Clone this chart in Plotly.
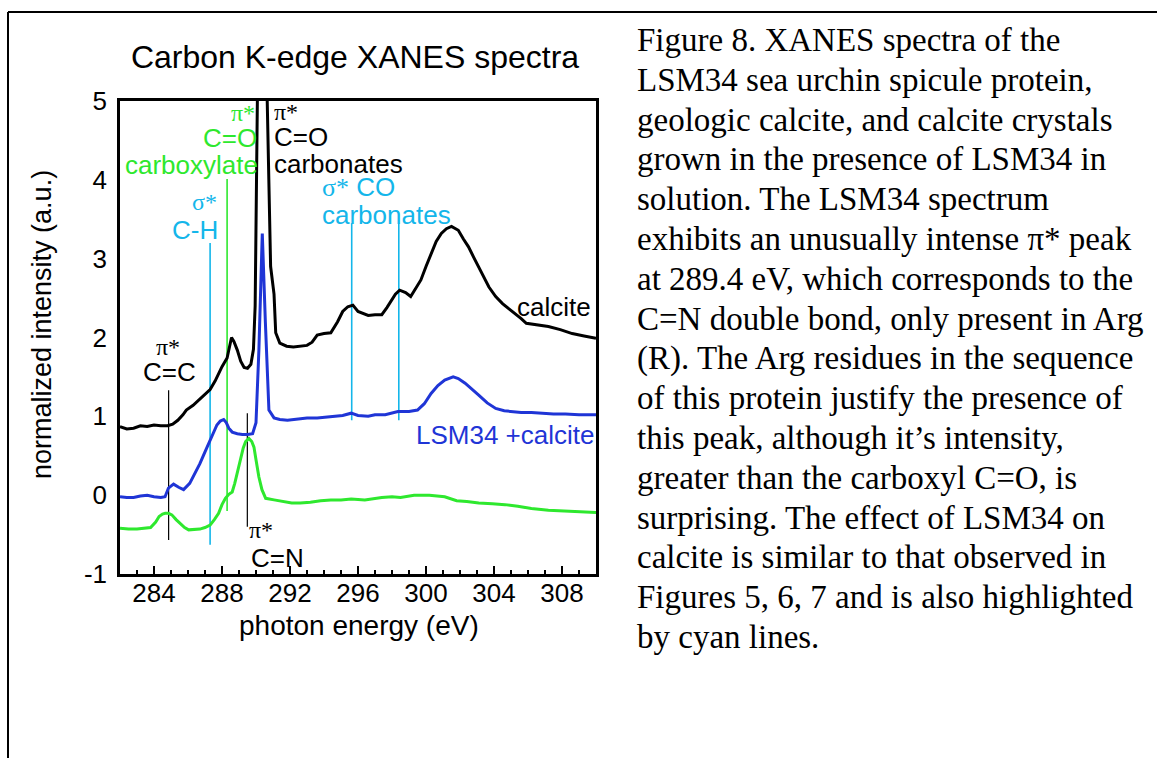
import plotly.graph_objects as go

# ---------------- data ----------------
calcite_E = [282.0, 282.4, 282.8, 283.2, 283.6, 284.0, 284.4, 284.8, 285.1, 285.4, 285.7, 285.9,
             286.3, 286.7, 287.0, 287.3, 287.6, 287.8, 288.0, 288.3, 288.45, 288.56, 288.7, 288.9,
             289.1, 289.3, 289.5, 289.7, 289.85, 289.95, 290.08, 290.35, 290.66, 290.86, 291.06,
             291.16, 291.4, 291.8, 292.2, 292.6, 293.0, 293.3, 293.6, 294.0, 294.4, 294.8, 295.1,
             295.4, 295.7, 296.0, 296.3, 296.6, 297.0, 297.4, 297.7, 297.9, 298.2, 298.45, 298.8,
             299.1, 299.4, 299.7, 300.0, 300.3, 300.6, 300.9, 301.2, 301.5, 301.9, 302.2, 302.5,
             302.8, 303.1, 303.4, 303.7, 304.1, 304.5, 304.9, 305.2, 305.6, 305.9, 306.5, 307.2,
             307.9, 308.6, 309.3, 310.0]
calcite_I = [0.87, 0.84, 0.85, 0.88, 0.87, 0.89, 0.88, 0.88, 0.90, 0.95, 1.02, 1.08,
             1.14, 1.22, 1.28, 1.34, 1.45, 1.55, 1.63, 1.74, 1.92, 2.00, 1.95, 1.84,
             1.70, 1.62, 1.61, 1.66, 1.85, 2.40, 5.00, 9.50, 5.00, 2.90, 2.55,
             2.06, 1.93, 1.89, 1.88, 1.89, 1.90, 1.94, 2.03, 2.05, 2.06, 2.20, 2.33,
             2.39, 2.41, 2.33, 2.30, 2.28, 2.29, 2.29, 2.38, 2.45, 2.55, 2.60, 2.57,
             2.52, 2.62, 2.73, 2.90, 3.07, 3.22, 3.32, 3.38, 3.41, 3.36, 3.25, 3.15,
             3.02, 2.90, 2.77, 2.64, 2.52, 2.43, 2.36, 2.31, 2.24, 2.18, 2.16, 2.14,
             2.10, 2.05, 2.02, 1.99]

lsm_calcite_E = [282.0, 282.4, 282.8, 283.2, 283.6, 284.0, 284.4, 284.65, 284.85, 285.15, 285.45,
                 285.74, 286.1, 286.4, 286.7, 287.0, 287.3, 287.5, 287.7, 287.9, 288.1, 288.25,
                 288.4, 288.6, 288.9, 289.2, 289.5, 289.8, 290.0, 290.17, 290.37, 290.55, 290.76,
                 291.06, 291.4, 291.85, 292.4, 293.0, 293.6, 294.0, 294.6, 295.1, 295.6, 296.0,
                 296.6, 297.0, 297.6, 298.35, 299.0, 299.5, 299.9, 300.3, 300.7, 301.1, 301.6,
                 301.9, 302.3, 302.7, 303.1, 303.6, 304.1, 304.6, 305.05, 305.6, 306.2, 306.9,
                 307.5, 308.2, 309.0, 310.0]
lsm_calcite_I = [-0.02, -0.03, -0.03, -0.01, 0.00, -0.02, -0.03, -0.02, 0.09, 0.14, 0.10,
                 0.07, 0.15, 0.27, 0.40, 0.55, 0.70, 0.80, 0.89, 0.94, 0.96, 0.92,
                 0.85, 0.80, 0.78, 0.77, 0.77, 0.78, 0.92, 1.84, 3.32, 2.20, 1.08,
                 0.98, 0.96, 0.95, 0.96, 0.98, 0.98, 0.99, 1.00, 1.01, 1.04, 1.01,
                 1.00, 1.02, 1.02, 1.06, 1.06, 1.08, 1.16, 1.29, 1.39, 1.46, 1.50,
                 1.48, 1.42, 1.35, 1.27, 1.17, 1.10, 1.07, 1.06, 1.05, 1.05, 1.04,
                 1.03, 1.03, 1.02, 1.02]

protein_E = [282.0, 282.5, 283.0, 283.5, 283.8, 284.1, 284.3, 284.5, 284.66, 284.85, 285.05, 285.3,
             285.55, 285.8, 286.04, 286.4, 286.7, 287.0, 287.3, 287.55, 287.8, 288.0, 288.2, 288.4,
             288.6, 288.75, 288.9, 289.1, 289.25, 289.39, 289.58, 289.75, 289.88, 290.0, 290.17,
             290.35, 290.57, 291.06, 291.6, 292.1, 292.6, 293.2, 293.8, 294.4, 295.0, 295.6, 296.4,
             297.0, 297.4, 298.0, 298.5, 299.3, 300.2, 301.1, 301.8, 302.4, 303.1, 303.9, 304.65,
             305.4, 306.2, 307.2, 308.2, 309.1, 310.0]
protein_I = [-0.42, -0.43, -0.43, -0.42, -0.41, -0.34, -0.27, -0.24, -0.23, -0.23, -0.25, -0.31,
             -0.36, -0.41, -0.44, -0.43, -0.43, -0.41, -0.38, -0.31, -0.23, -0.12, -0.04, 0.01,
             0.04, 0.15, 0.28, 0.45, 0.60, 0.68, 0.72, 0.68, 0.61, 0.45, 0.23,
             0.07, -0.04, -0.06, -0.08, -0.10, -0.10, -0.09, -0.07, -0.06, -0.06, -0.05, -0.06,
             -0.04, -0.03, -0.02, -0.03, 0.00, 0.00, -0.02, -0.07, -0.08, -0.10, -0.11, -0.12,
             -0.14, -0.17, -0.19, -0.20, -0.21, -0.22]

# marker lines: energy, y bottom, y top, colour key
marker_E = [287.3, 288.3, 295.63, 298.4, 284.86, 289.49]
marker_lo = [-0.63, -0.20, 0.95, 0.95, -0.57, -0.40]
marker_hi = [3.20, 4.01, 3.45, 3.45, 1.33, 1.04]
marker_kind = ["cyan", "green", "cyan", "cyan", "black", "black"]

x_ticks = [284, 288, 292, 296, 300, 304, 308]
y_ticks = [-1, 0, 1, 2, 3, 4, 5]

caption_lines = [
    "Figure 8. XANES spectra of the",
    "LSM34 sea urchin spicule protein,",
    "geologic calcite, and calcite crystals",
    "grown in the presence of LSM34 in",
    "solution. The LSM34 spectrum",
    "exhibits an unusually intense \u03c0* peak",
    "at 289.4 eV, which corresponds to the",
    "C=N double bond, only present in Arg",
    "(R). The Arg residues in the sequence",
    "of this protein justify the presence of",
    "this peak, although it\u2019s intensity,",
    "greater than the carboxyl C=O, is",
    "surprising. The effect of LSM34 on",
    "calcite is similar to that observed in",
    "Figures 5, 6, 7 and is also highlighted",
    "by cyan lines.",
]

# ---------------- style ----------------
BLACK = "#000000"
BLUE = "#1f35d6"
GREEN = "#2ee82e"
CYAN = "#14b6ea"
SANS = "Liberation Sans, Arial, sans-serif"
SERIF = "Liberation Serif, Times New Roman, serif"
colors = {"cyan": CYAN, "green": GREEN, "black": BLACK}
widths = {"cyan": 1.6, "green": 1.6, "black": 1.2}

# plot-area pixel geometry (for placing things outside the axes)
L, T, R, B = 120, 101, 596, 574
def px_x(px):
    return (px - L) / (R - L)
def px_y(py):
    return (B - py) / (B - T)

fig = go.Figure()

for e, lo, hi, k in zip(marker_E, marker_lo, marker_hi, marker_kind):
    fig.add_trace(go.Scatter(x=[e, e], y=[lo, hi], mode="lines",
                             line=dict(color=colors[k], width=widths[k]),
                             showlegend=False, hoverinfo="skip"))

fig.add_trace(go.Scatter(x=protein_E, y=protein_I, mode="lines",
                         line=dict(color=GREEN, width=3), showlegend=False))
fig.add_trace(go.Scatter(x=lsm_calcite_E, y=lsm_calcite_I, mode="lines",
                         line=dict(color=BLUE, width=3), showlegend=False))
fig.add_trace(go.Scatter(x=calcite_E, y=calcite_I, mode="lines",
                         line=dict(color=BLACK, width=3), showlegend=False))

def pi(sym="\u03c0*"):
    return f'<span style="font-family:{SERIF}">{sym}</span>'

ann = []
def note(text, x, y, color, anchor, size=26):
    ann.append(dict(text=text, x=x, y=y, xref="x", yref="y", showarrow=False,
                    xanchor=anchor, yanchor="middle", borderpad=0,
                    font=dict(family=SANS, size=size, color=color)))

# green carboxylate label
note(pi(), 290.0, 4.85, GREEN, "right", 24)
note("C=O", 290.12, 4.53, GREEN, "right")
note("carboxylate", 290.18, 4.19, GREEN, "right")
# black carbonate label
note(pi(), 290.98, 4.86, BLACK, "left", 24)
note("C=O", 290.98, 4.54, BLACK, "left")
note("carbonates", 290.98, 4.20, BLACK, "left")
# cyan C-H
note(pi("\u03c3*"), 287.75, 3.72, CYAN, "right", 24)
note("C-H", 287.8, 3.36, CYAN, "right")
# cyan CO carbonates
note(pi("\u03c3*") + " CO", 293.84, 3.91, CYAN, "left")
note("carbonates", 293.84, 3.55, CYAN, "left")
# C=C
note(pi(), 284.84, 1.88, BLACK, "center", 24)
note("C=C", 284.9, 1.56, BLACK, "center")
# C=N
note(pi(), 289.52, -0.44, BLACK, "left", 24)
note("C=N", 289.64, -0.80, BLACK, "left")
# series labels
note("calcite", 309.75, 2.39, BLACK, "right")
note("LSM34 +calcite", 309.95, 0.76, BLUE, "right")
note("LSM34 protein", 310.1, -0.40, GREEN, "right")

# axis titles
ann.append(dict(text="photon energy (eV)", x=px_x(359), y=px_y(625), xref="paper", yref="paper",
                showarrow=False, xanchor="center", yanchor="middle",
                font=dict(family=SANS, size=28, color=BLACK)))
ann.append(dict(text="normalized intensity (a.u.)", x=px_x(42), y=px_y(325), xref="paper", yref="paper",
                showarrow=False, xanchor="center", yanchor="middle", textangle=-90,
                font=dict(family=SANS, size=27, color=BLACK)))

# caption text block
for i, line in enumerate(caption_lines):
    yc = 40 + i * 39.8
    ann.append(dict(text=line, x=px_x(636), y=px_y(yc), xref="paper", yref="paper",
                    showarrow=False, xanchor="left", yanchor="middle", borderpad=0,
                    font=dict(family=SERIF, size=33, color=BLACK)))

shapes = [
    dict(type="line", xref="paper", yref="paper", x0=px_x(8), x1=px_x(1160),
         y0=px_y(12), y1=px_y(12), line=dict(color=BLACK, width=2)),
    dict(type="line", xref="paper", yref="paper", x0=px_x(8), x1=px_x(8),
         y0=px_y(12), y1=px_y(760), line=dict(color=BLACK, width=2)),
]

fig.update_layout(
    width=1157, height=758,
    margin=dict(l=L, r=1157 - R, t=T, b=758 - B, pad=0),
    paper_bgcolor="white", plot_bgcolor="white",
    font=dict(family=SANS, color=BLACK),
    title=dict(text="Carbon K-edge XANES spectra", x=px_x(355), xref="paper", xanchor="center",
               y=1 - 57 / 758, yref="container", yanchor="middle",
               font=dict(family=SANS, size=32, color=BLACK)),
    annotations=ann, shapes=shapes, showlegend=False,
)
fig.update_xaxes(
    range=[282, 310], showgrid=False, zeroline=False,
    showline=True, linecolor=BLACK, linewidth=2.5, mirror=True,
    tickmode="array", tickvals=x_ticks, ticktext=[str(v) for v in x_ticks],
    ticks="inside", ticklen=8, tickwidth=2, tickcolor=BLACK,
    minor=dict(dtick=1, tick0=282, ticks="inside", ticklen=4, tickwidth=1.5, tickcolor=BLACK),
    tickfont=dict(family=SANS, size=26, color=BLACK), ticklabelstandoff=-6,
)
fig.update_yaxes(
    range=[-1, 5], showgrid=False, zeroline=False,
    showline=True, linecolor=BLACK, linewidth=2.5, mirror=True,
    tickmode="array", tickvals=y_ticks, ticktext=[str(v) for v in y_ticks],
    ticks="", ticklabelstandoff=5,
    tickfont=dict(family=SANS, size=26, color=BLACK),
)

fig.write_html("out.html")
